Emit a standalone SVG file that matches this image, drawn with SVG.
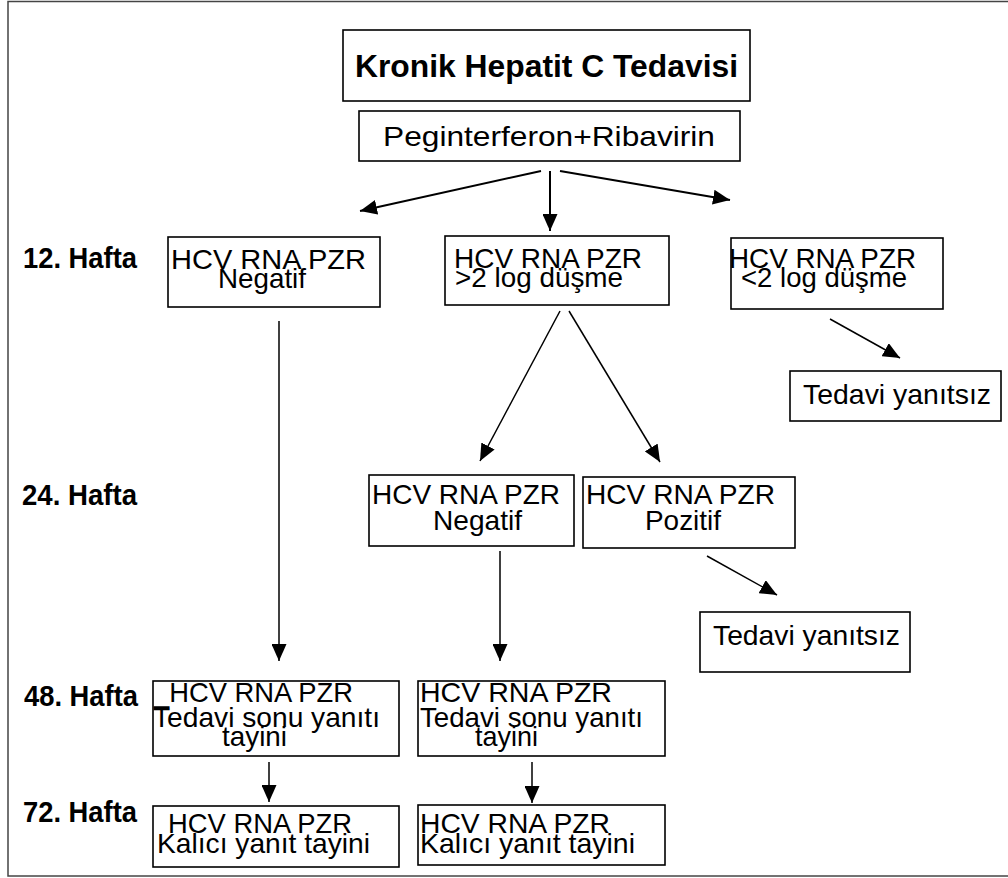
<svg xmlns="http://www.w3.org/2000/svg" width="1008" height="878" viewBox="0 0 1008 878">
<defs>
<marker id="ah" markerUnits="userSpaceOnUse" markerWidth="17" markerHeight="15" refX="17" refY="7.5" orient="auto">
<path d="M0,0 L17,7.5 L0,15 z" fill="#000"/>
</marker>
<style>
.box{fill:#fff;stroke:#000;stroke-width:1.6}
.t{font-family:"Liberation Sans",Arial,sans-serif;font-size:28px;fill:#000}
.b{font-family:"Liberation Sans",Arial,sans-serif;font-weight:bold;font-size:29px;fill:#000}
.c{fill:none;stroke:#000;stroke-width:1.5;marker-end:url(#ah)}
.c2{fill:none;stroke:#000;stroke-width:2;marker-end:url(#ah)}
</style>
</defs>
<rect x="0" y="0" width="1008" height="878" fill="#fff"/>
<rect x="8" y="1.5" width="1010" height="874.5" fill="none" stroke="#444" stroke-width="1.5"/>

<g id="labels">
<text class="b" x="23" y="268" textLength="114" lengthAdjust="spacingAndGlyphs">12. Hafta</text>
<text class="b" x="22" y="505" textLength="115" lengthAdjust="spacingAndGlyphs">24. Hafta</text>
<text class="b" x="24" y="706" textLength="114" lengthAdjust="spacingAndGlyphs">48. Hafta</text>
<text class="b" x="23" y="822" textLength="114" lengthAdjust="spacingAndGlyphs">72. Hafta</text>
</g>

<g id="connectors">
<path class="c2" d="M541,171 L360,211"/>
<path class="c2" d="M550,171 L550,231"/>
<path class="c2" d="M560,171 L730,200"/>
<path class="c" d="M279,321 L279,661"/>
<path class="c" d="M560,311 L480,461"/>
<path class="c" d="M569,311 L660,462"/>
<path class="c" d="M830,319 L900,358"/>
<path class="c" d="M500,551 L500,661"/>
<path class="c" d="M707,556 L777,595"/>
<path class="c" d="M269,762 L269,802"/>
<path class="c" d="M532,762 L532,803"/>
</g>

<g id="title">
<rect class="box" x="343" y="30" width="407" height="71"/>
<text class="b" x="355" y="77" style="font-size:32px" textLength="383" lengthAdjust="spacingAndGlyphs">Kronik Hepatit C Tedavisi</text>
</g>

<g id="treatment">
<rect class="box" x="359" y="111" width="381" height="50"/>
<text class="t" x="383" y="146" textLength="332" lengthAdjust="spacingAndGlyphs">Peginterferon+Ribavirin</text>
</g>

<g id="w12-neg">
<rect class="box" x="168" y="237" width="212" height="70"/>
<text class="t" x="171" y="269" textLength="195" lengthAdjust="spacingAndGlyphs">HCV RNA PZR</text>
<text class="t" x="218" y="288" textLength="88" lengthAdjust="spacingAndGlyphs">Negatif</text>
</g>

<g id="w12-gt2">
<rect class="box" x="445" y="236" width="224" height="69"/>
<text class="t" x="454" y="268" textLength="188" lengthAdjust="spacingAndGlyphs">HCV RNA PZR</text>
<text class="t" x="455" y="287" textLength="168" lengthAdjust="spacingAndGlyphs">&gt;2 log düşme</text>
</g>

<g id="w12-lt2">
<rect class="box" x="731" y="238" width="212" height="71"/>
<text class="t" x="729" y="268" textLength="187" lengthAdjust="spacingAndGlyphs">HCV RNA PZR</text>
<text class="t" x="741" y="287" textLength="166" lengthAdjust="spacingAndGlyphs">&lt;2 log düşme</text>
</g>

<g id="nonresp1">
<rect class="box" x="790" y="371" width="211" height="50"/>
<text class="t" x="803" y="404" textLength="188" lengthAdjust="spacingAndGlyphs">Tedavi yanıtsız</text>
</g>

<g id="w24-neg">
<rect class="box" x="369" y="475" width="205" height="71"/>
<text class="t" x="372" y="504" textLength="188" lengthAdjust="spacingAndGlyphs">HCV RNA PZR</text>
<text class="t" x="433" y="530" textLength="89" lengthAdjust="spacingAndGlyphs">Negatif</text>
</g>

<g id="w24-pos">
<rect class="box" x="583" y="477" width="212" height="71"/>
<text class="t" x="586" y="504" textLength="189" lengthAdjust="spacingAndGlyphs">HCV RNA PZR</text>
<text class="t" x="645" y="530" textLength="76" lengthAdjust="spacingAndGlyphs">Pozitif</text>
</g>

<g id="nonresp2">
<rect class="box" x="700" y="612" width="210" height="60"/>
<text class="t" x="713" y="645" textLength="187" lengthAdjust="spacingAndGlyphs">Tedavi yanıtsız</text>
</g>

<g id="w48-left">
<rect class="box" x="153" y="681" width="246" height="75"/>
<text class="t" x="154" y="702" textLength="199" lengthAdjust="spacingAndGlyphs">_HCV RNA PZR</text>
<text class="t" x="153" y="727" textLength="227" lengthAdjust="spacingAndGlyphs">Tedavi sonu yanıtı</text>
<text class="t" x="222" y="746" textLength="65" lengthAdjust="spacingAndGlyphs">tayini</text>
</g>

<g id="w48-right">
<rect class="box" x="418" y="681" width="247" height="75"/>
<text class="t" x="420" y="702" textLength="192" lengthAdjust="spacingAndGlyphs">HCV RNA PZR</text>
<text class="t" x="420" y="727" textLength="223" lengthAdjust="spacingAndGlyphs">Tedavi sonu yanıtı</text>
<text class="t" x="475" y="746" textLength="63" lengthAdjust="spacingAndGlyphs">tayini</text>
</g>

<g id="w72-left">
<rect class="box" x="153" y="806" width="246" height="61"/>
<text class="t" x="168" y="833" textLength="184" lengthAdjust="spacingAndGlyphs">HCV RNA PZR</text>
<text class="t" x="157" y="853" textLength="213" lengthAdjust="spacingAndGlyphs">Kalıcı yanıt tayini</text>
</g>

<g id="w72-right">
<rect class="box" x="418" y="805" width="247" height="60"/>
<text class="t" x="420" y="833" textLength="190" lengthAdjust="spacingAndGlyphs">HCV RNA PZR</text>
<text class="t" x="420" y="853" textLength="215" lengthAdjust="spacingAndGlyphs">Kalıcı yanıt tayini</text>
</g>
</svg>
